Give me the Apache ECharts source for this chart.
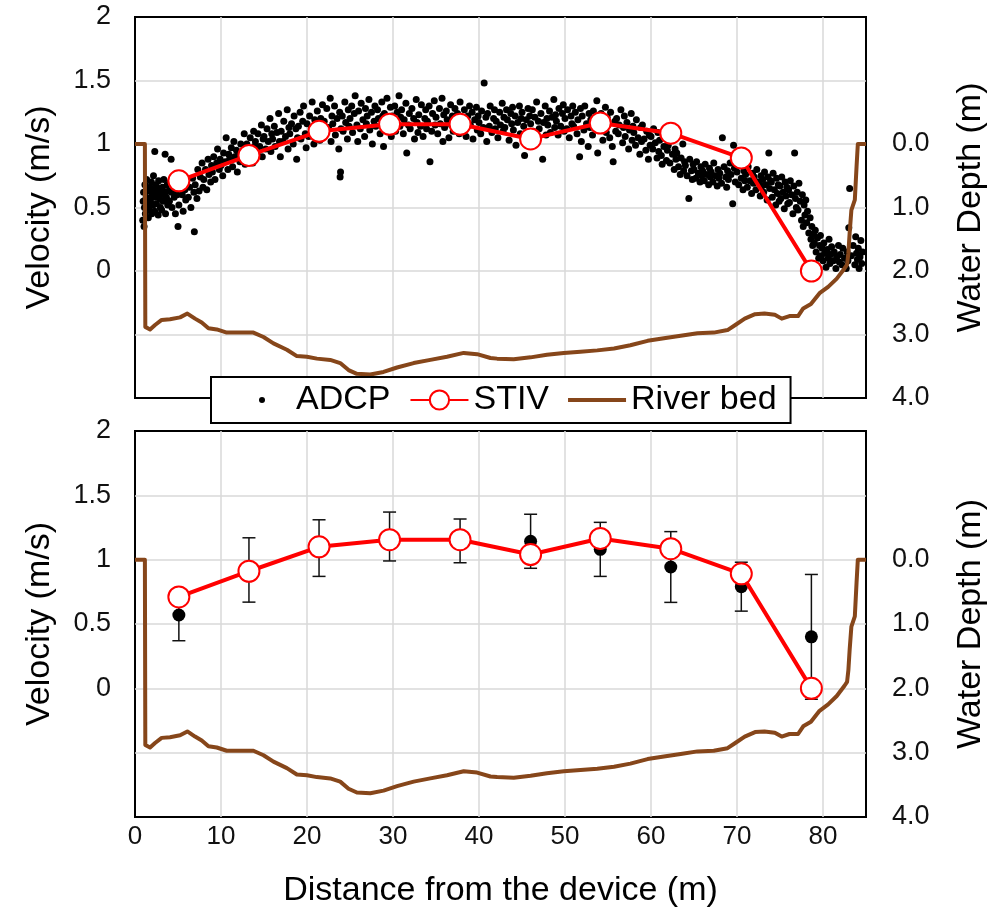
<!DOCTYPE html>
<html>
<head>
<meta charset="utf-8">
<script src="https://cdn.jsdelivr.net/npm/echarts@6/dist/echarts.min.js"></script>
<style>
html,body{margin:0;padding:0;background:#fff;}
#chart{width:1004px;height:914px;}
</style>
</head>
<body>
<div id="chart"></div>
<script>
// ---------- DATA ----------
const xTicks = [0, 10, 20, 30, 40, 50, 60, 70, 80];
const velTicks = [0, 0.5, 1, 1.5, 2];
const depthTicks = [0, 1, 2, 3, 4];

// STIV measurement positions (m) and surface velocity (m/s)
const stivDist = [5.1, 13.25, 21.4, 29.6, 37.8, 46.0, 54.1, 62.3, 70.5, 78.65];
const stivVel  = [0.71, 0.91, 1.10, 1.155, 1.155, 1.04, 1.165, 1.085, 0.89, 0.0];

// ADCP mean velocity and error (std) at the STIV positions (bottom panel)
const adcpMeanVel = [0.57, 0.92, 1.09, 1.18, 1.146, 1.143, 1.08, 0.943, 0.79, 0.40];
const adcpErr     = [0.20, 0.25, 0.22, 0.19, 0.17, 0.21, 0.21, 0.275, 0.19, 0.485];

// River bed profile [distance (m), depth (m)]
const riverBed = [
[0,0],[1.15,0],[1.2,2.88],[1.75,2.92],[2.33,2.85],[3.1,2.77],[4.07,2.76],[5.24,2.73],[6.09,2.67],[6.98,2.75],
[7.76,2.81],[8.54,2.90],[9.51,2.92],[10.67,2.97],[12.22,2.97],[13.77,2.97],[14.94,3.04],[16.1,3.14],[17.66,3.24],
[18.82,3.34],[19.99,3.35],[21.15,3.38],[22.7,3.40],[23.86,3.45],[24.83,3.56],[25.8,3.62],[27.36,3.63],[28.9,3.59],
[30.47,3.52],[32.4,3.45],[34.34,3.40],[36.28,3.35],[38.22,3.29],[39.78,3.31],[41.33,3.37],[42.1,3.38],[44.04,3.39],
[46.0,3.36],[47.9,3.32],[49.86,3.29],[51.8,3.27],[53.75,3.25],[55.7,3.22],[57.6,3.17],[59.6,3.10],[61.5,3.06],
[63.45,3.02],[65.4,2.98],[67.3,2.97],[68.9,2.93],[69.8,2.85],[70.9,2.75],[72.1,2.68],[73.2,2.67],[74.4,2.69],
[75.2,2.75],[76.1,2.71],[77.1,2.71],[77.7,2.59],[78.6,2.52],[79.6,2.35],[80.6,2.25],[81.6,2.12],[82.5,1.96],
[82.8,1.90],[82.95,1.72],[83.1,1.40],[83.3,1.04],[83.7,0.88],[83.9,0.36],[84.05,0],[85,0]
];

// ADCP individual measurements [distance (m), velocity (m/s)] (top panel)
const adcpPoints = [
[0.9,0.40],[0.95,0.55],[1.0,0.62],[1.05,0.35],[1.1,0.50],[1.15,0.68],[1.2,0.45],[1.3,0.58],[1.35,0.72],[1.4,0.52],[1.5,0.63],[1.55,0.42],[1.6,0.57],[1.7,0.48],[1.75,0.66],[1.8,0.55],[1.9,0.70],[1.95,0.45],
[2.0,0.60],[2.1,0.52],[2.15,0.75],[2.2,0.64],[2.3,0.94],[2.3,0.47],[2.35,0.58],[2.45,0.68],[2.5,0.53],[2.6,0.62],[2.7,0.44],[2.75,0.71],[2.85,0.57],[2.9,0.65],[2.95,0.50],
[3.0,0.60],[3.1,0.48],[3.2,0.66],[3.25,0.55],[3.35,0.72],[3.4,0.62],[3.5,0.92],[3.55,0.45],[3.65,0.58],[3.75,0.68],[3.8,0.52],[3.9,0.63],
[4.0,0.55],[4.1,0.70],[4.2,0.88],[4.25,0.62],[4.3,0.50],[4.45,0.66],[4.55,0.58],[4.7,0.45],[4.8,0.64],[4.9,0.60],
[5.0,0.35],[5.1,0.52],[5.3,0.68],[5.5,0.60],[5.6,0.47],[5.8,0.64],[5.9,0.56],
[6.0,0.70],[6.2,0.58],[6.35,0.66],[6.5,0.50],[6.7,0.73],[6.85,0.62],[6.9,0.31],
[7.0,0.68],[7.2,0.57],[7.3,0.80],[7.45,0.63],[7.6,0.74],[7.8,0.85],[7.9,0.66],
[8.0,0.72],[8.2,0.80],[8.35,0.64],[8.5,0.88],[8.6,0.76],[8.8,0.70],[8.9,0.83],
[9.0,0.78],[9.15,0.90],[9.3,0.72],[9.5,0.85],[9.6,0.96],[9.8,0.80],[9.9,0.88],
[10.0,0.83],[10.2,0.75],[10.3,0.93],[10.5,0.86],[10.6,1.05],[10.8,0.80],[10.9,0.92],
[11.0,0.88],[11.2,0.97],[11.35,0.82],[11.5,1.02],[11.6,0.90],[11.8,0.95],[11.9,0.78],
[12.0,0.93],[12.2,0.86],[12.3,1.00],[12.5,0.92],[12.7,1.08],[12.8,0.84],[12.9,0.97],
[13.0,1.00],[13.2,0.90],[13.4,1.05],[13.5,0.95],[13.7,0.85],[13.8,1.10],[13.9,0.98],
[14.0,1.02],[14.2,0.93],[14.3,1.08],[14.5,0.98],[14.7,1.15],[14.8,0.90],[14.9,1.04],
[15.0,1.06],[15.2,0.96],[15.35,1.12],[15.5,1.02],[15.7,1.20],[15.8,0.94],[15.9,1.08],
[16.0,1.04],[16.2,1.14],[16.3,0.98],[16.5,1.09],[16.7,1.24],[16.8,1.02],[16.9,0.90],
[17.0,1.10],[17.2,1.02],[17.3,1.18],[17.5,1.06],[17.7,1.27],[17.8,0.96],[17.9,1.13],
[18.0,1.08],[18.2,1.16],[18.4,1.00],[18.5,1.22],[18.7,1.12],[18.8,0.88],[18.9,1.05],
[19.0,1.14],[19.2,1.25],[19.3,1.04],[19.5,1.18],[19.6,1.30],[19.8,1.08],[19.9,0.97],
[20.0,1.16],[20.2,1.06],[20.3,1.22],[20.5,1.12],[20.6,1.33],[20.8,1.00],[20.9,1.19],
[21.0,1.10],[21.2,1.26],[21.3,1.15],[21.5,1.03],[21.6,1.20],[21.8,1.31],[21.9,1.08],
[22.0,1.18],[22.2,1.08],[22.3,1.28],[22.5,1.13],[22.7,1.36],[22.8,1.02],[22.9,1.22],
[23.0,1.16],[23.2,1.30],[23.3,1.07],[23.5,1.20],[23.7,0.96],[23.8,1.25],[23.85,0.74],[23.9,0.78],[23.95,1.12],
[24.1,1.22],[24.2,1.10],[24.4,1.33],[24.5,1.17],[24.7,1.04],[24.8,1.27],[24.9,1.14],
[25.0,1.20],[25.2,1.30],[25.3,1.09],[25.5,1.24],[25.6,1.38],[25.8,1.15],[25.9,1.02],
[26.0,1.26],[26.2,1.12],[26.3,1.32],[26.5,1.19],[26.7,1.06],[26.8,1.28],[26.9,1.16],
[27.0,1.22],[27.2,1.35],[27.3,1.11],[27.5,1.25],[27.6,1.00],[27.8,1.18],[27.9,1.30],
[28.0,1.14],[28.2,1.27],[28.3,1.20],[28.5,1.08],[28.7,1.33],[28.8,1.22],[28.9,0.98],
[29.0,1.24],[29.2,1.12],[29.3,1.36],[29.5,1.19],[29.7,1.29],[29.8,1.06],[29.9,1.22],
[30.0,1.17],[30.2,1.30],[30.3,1.10],[30.5,1.25],[30.7,1.38],[30.8,1.14],[30.9,1.21],
[31.0,1.27],[31.2,1.08],[31.3,1.19],[31.5,1.32],[31.6,0.93],[31.8,1.15],[31.9,1.24],
[32.0,1.12],[32.2,1.28],[32.4,1.20],[32.5,1.04],[32.7,1.35],[32.8,1.17],[32.9,1.09],
[33.0,1.23],[33.2,1.14],[33.3,1.31],[33.5,1.06],[33.7,1.20],[33.8,1.27],[33.9,1.12],
[34.0,1.18],[34.2,1.30],[34.3,0.86],[34.5,1.10],[34.6,1.24],[34.8,1.34],[34.9,1.15],
[35.0,1.21],[35.2,1.08],[35.4,1.28],[35.5,1.16],[35.7,1.36],[35.8,1.02],[35.9,1.23],
[36.0,1.13],[36.2,1.26],[36.3,1.19],[36.5,1.05],[36.7,1.31],[36.8,1.15],[36.9,1.22],
[37.0,1.10],[37.2,1.28],[37.3,1.17],[37.5,1.24],[37.7,1.08],[37.8,1.33],[37.9,1.14],
[38.0,1.20],[38.2,1.12],[38.3,1.27],[38.5,1.06],[38.7,1.22],[38.8,1.16],[38.9,1.30],
[39.0,1.15],[39.2,1.25],[39.3,1.04],[39.5,1.19],[39.7,1.29],[39.8,1.11],[39.9,1.22],
[40.0,1.17],[40.2,1.08],[40.3,1.26],[40.5,1.13],[40.6,1.48],[40.8,1.21],[40.9,1.02],
[41.0,1.24],[41.2,1.14],[41.3,1.30],[41.5,1.09],[41.7,1.20],[41.8,1.27],[41.9,1.12],
[42.0,1.18],[42.2,1.05],[42.4,1.25],[42.5,1.15],[42.7,1.32],[42.8,1.10],[42.9,1.21],
[43.0,1.13],[43.2,1.27],[43.3,1.19],[43.5,1.03],[43.7,1.24],[43.8,1.16],[43.9,1.29],
[44.0,1.11],[44.2,1.22],[44.3,0.99],[44.5,1.17],[44.7,1.30],[44.8,1.08],[44.9,1.20],
[45.0,1.25],[45.2,1.14],[45.3,0.91],[45.5,1.19],[45.7,1.28],[45.8,1.06],[45.9,1.22],
[46.0,1.16],[46.2,1.27],[46.3,1.10],[46.5,1.21],[46.7,1.33],[46.8,1.02],[46.9,1.18],
[47.0,1.12],[47.2,1.24],[47.4,0.88],[47.5,1.17],[47.7,1.30],[47.8,1.07],[47.9,1.20],
[48.0,1.15],[48.2,1.26],[48.3,1.09],[48.5,1.21],[48.7,1.35],[48.8,1.13],[48.9,1.23],
[49.0,1.18],[49.2,1.07],[49.3,1.28],[49.5,1.14],[49.7,1.24],[49.8,1.31],[49.9,1.10],
[50.0,1.20],[50.2,1.12],[50.3,1.27],[50.5,1.05],[50.7,1.22],[50.8,1.16],[50.9,1.30],
[51.0,1.14],[51.2,1.25],[51.4,1.08],[51.5,1.19],[51.7,0.90],[51.8,1.28],[51.9,1.02],
[52.0,1.22],[52.2,1.11],[52.3,1.30],[52.5,1.16],[52.7,0.98],[52.8,1.24],[52.9,1.13],
[53.0,1.19],[53.2,1.07],[53.3,1.26],[53.5,1.14],[53.7,1.34],[53.8,0.93],[53.9,1.20],
[54.0,1.12],[54.2,1.24],[54.4,1.03],[54.5,1.17],[54.7,1.29],[54.8,1.09],[54.9,1.21],
[55.0,1.15],[55.2,1.05],[55.3,1.25],[55.5,0.98],[55.6,0.86],[55.8,1.18],[55.9,1.10],
[56.0,1.20],[56.2,1.08],[56.3,1.15],[56.5,1.27],[56.7,1.01],[56.8,1.13],[56.9,1.22],
[57.0,1.06],[57.2,1.17],[57.4,0.96],[57.5,1.11],[57.7,1.24],[57.8,1.03],[57.9,1.14],
[58.0,1.09],[58.2,0.99],[58.3,1.19],[58.5,1.05],[58.7,0.92],[58.8,1.13],[58.9,1.02],
[59.0,1.15],[59.2,1.04],[59.4,0.95],[59.5,1.10],[59.7,0.88],[59.8,1.07],[59.9,0.99],
[60.0,1.06],[60.2,0.96],[60.3,1.12],[60.5,1.01],[60.7,0.89],[60.8,1.09],[60.9,0.94],
[61.0,1.03],[61.2,0.91],[61.3,0.84],[61.5,0.98],[61.7,1.08],[61.8,0.87],[61.9,0.95],
[62.0,0.99],[62.2,0.85],[62.4,1.05],[62.5,0.92],[62.7,0.80],[62.8,0.96],[62.9,0.88],
[63.0,0.93],[63.2,0.82],[63.4,0.76],[63.5,0.89],[63.7,1.00],[63.8,0.79],[63.9,0.86],
[64.0,0.83],[64.2,0.75],[64.4,0.57],[64.5,0.88],[64.7,0.79],[64.8,0.72],[64.9,0.84],
[65.0,0.80],[65.2,0.73],[65.3,0.86],[65.5,0.77],[65.7,0.70],[65.8,0.82],[65.9,0.75],
[66.0,0.79],[66.2,0.71],[66.3,0.84],[66.5,0.76],[66.7,0.68],[66.8,0.81],[66.9,0.74],
[67.0,0.78],[67.2,0.70],[67.3,0.85],[67.5,0.75],[67.7,0.67],[67.8,0.80],[67.9,0.73],
[68.0,0.77],[68.2,0.69],[68.3,1.05],[68.5,0.82],[68.7,0.74],[68.8,0.66],[68.9,0.79],
[69.0,0.72],[69.2,0.85],[69.3,0.76],[69.5,0.53],[69.6,0.99],[69.7,0.81],[69.8,0.70],
[70.0,0.78],[70.2,0.68],[70.3,0.84],[70.5,0.73],[70.7,0.64],[70.8,0.79],[70.9,0.71],
[71.0,0.76],[71.2,0.66],[71.3,0.82],[71.5,0.71],[71.7,0.61],[71.8,0.77],[71.9,0.69],
[72.0,0.74],[72.2,0.64],[72.3,0.80],[72.5,0.70],[72.7,0.59],[72.8,0.75],[72.9,0.67],
[73.0,0.72],[73.1,0.62],[73.2,0.78],[73.35,0.68],[73.5,0.56],[73.6,0.74],[73.7,0.93],[73.8,0.65],[73.9,0.71],
[74.0,0.70],[74.1,0.58],[74.2,0.77],[74.35,0.64],[74.5,0.52],[74.6,0.73],[74.7,0.61],[74.8,0.68],[74.9,0.55],
[75.0,0.67],[75.1,0.57],[75.2,0.74],[75.35,0.62],[75.5,0.49],[75.6,0.70],[75.7,0.59],[75.8,0.66],[75.9,0.53],
[76.0,0.64],[76.1,0.54],[76.2,0.71],[76.35,0.60],[76.5,0.45],[76.6,0.67],[76.7,0.93],[76.8,0.57],[76.9,0.50],
[77.0,0.62],[77.1,0.48],[77.2,0.69],[77.35,0.55],[77.5,0.40],[77.6,0.60],[77.7,0.35],[77.8,0.52],[77.9,0.44],
[78.0,0.56],[78.1,0.38],[78.2,0.47],[78.35,0.30],[78.5,0.42],[78.6,0.25],[78.7,0.35],[78.8,0.20],[78.9,0.29],
[79.0,0.22],[79.1,0.32],[79.2,0.15],[79.35,0.26],[79.5,0.10],[79.6,0.20],[79.7,0.28],[79.8,0.12],[79.9,0.18],
[80.0,0.08],[80.1,0.22],[80.2,0.14],[80.35,0.03],[80.5,0.17],[80.6,0.10],[80.7,0.25],[80.8,0.06],[80.9,0.13],
[81.0,0.19],[81.2,0.08],[81.3,0.15],[81.5,0.02],[81.6,0.11],[81.8,0.20],[81.9,0.07],
[82.0,0.13],[82.2,0.05],[82.3,0.18],[82.5,0.10],[82.7,0.02],[82.8,0.15],[82.9,0.08],
[83.0,0.34],[83.1,0.65],[83.3,0.12],[83.5,0.20],[83.7,0.05],[83.8,0.27],[83.9,0.14],
[84.0,0.09],[84.1,0.18],[84.2,0.02],[84.3,0.11],[84.4,0.24],[84.5,0.06],[84.6,0.15]
];

// ---------- STYLE ----------
const FONT = 'Liberation Sans, Arial, sans-serif';
const RED = '#FF0000';
const BROWN = '#86461A';
const GRIDC = '#D9D9D9';

const chart = echarts.init(document.getElementById('chart'), null, {renderer: 'canvas'});

function xAxis(gridIndex, showLabels) {
  return {
    type: 'value', gridIndex: gridIndex, min: 0, max: 85, interval: 10,
    axisLine: {show: false}, axisTick: {show: false},
    axisLabel: {show: showLabels, fontFamily: FONT, fontSize: 26, color: '#111', margin: 7,
      formatter: v => xTicks.indexOf(v) >= 0 ? String(v) : ''},
    splitLine: {show: true, showMinLine: false, showMaxLine: false, lineStyle: {color: GRIDC, width: 1.5}},
    name: showLabels ? 'Distance from the device (m)' : '',
    nameLocation: 'middle', nameGap: 57,
    nameTextStyle: {fontFamily: FONT, fontSize: 34, color: '#000'}
  };
}
function velAxis(gridIndex) {
  return {
    type: 'value', gridIndex: gridIndex, position: 'left', min: -1, max: 2, interval: 0.5,
    axisLine: {show: false}, axisTick: {show: false},
    axisLabel: {fontFamily: FONT, fontSize: 27, color: '#111', margin: 24,
      formatter: v => velTicks.indexOf(v) >= 0 ? String(v) : ''},
    splitLine: {show: true, showMinLine: false, showMaxLine: false, lineStyle: {color: GRIDC, width: 1.5}},
    name: 'Velocity (m/s)', nameLocation: 'middle', nameGap: 78, nameRotate: 90,
    nameTextStyle: {fontFamily: FONT, fontSize: 34, color: '#000'}
  };
}
function depthAxis(gridIndex) {
  return {
    type: 'value', gridIndex: gridIndex, position: 'right', min: -2, max: 4, interval: 1, inverse: true,
    axisLine: {show: false}, axisTick: {show: false},
    axisLabel: {fontFamily: FONT, fontSize: 27, color: '#111', margin: 26,
      formatter: v => depthTicks.indexOf(v) >= 0 ? v.toFixed(1) : ''},
    splitLine: {show: false},
    name: 'Water Depth (m)', nameLocation: 'middle', nameGap: 88, nameRotate: 90,
    nameTextStyle: {fontFamily: FONT, fontSize: 34, color: '#000'}
  };
}

function errorBarItem(params, api) {
  const x = api.value(0);
  const lo = api.coord([x, api.value(1)]);
  const hi = api.coord([x, api.value(2)]);
  const hw = 6.5;
  const st = {stroke: '#111', lineWidth: 1.5, fill: null};
  return {
    type: 'group',
    children: [
      {type: 'line', shape: {x1: lo[0], y1: lo[1], x2: hi[0], y2: hi[1]}, style: st},
      {type: 'line', shape: {x1: lo[0] - hw, y1: lo[1], x2: lo[0] + hw, y2: lo[1]}, style: st},
      {type: 'line', shape: {x1: hi[0] - hw, y1: hi[1], x2: hi[0] + hw, y2: hi[1]}, style: st}
    ]
  };
}

const stivData = stivDist.map((d, i) => [d, stivVel[i]]);
const meanData = stivDist.map((d, i) => [d, adcpMeanVel[i]]);
const errData = stivDist.map((d, i) => [d, adcpMeanVel[i] - adcpErr[i], adcpMeanVel[i] + adcpErr[i]]);

function stivSeries(xi, yi) {
  return {
    name: 'STIV', type: 'line', xAxisIndex: xi, yAxisIndex: yi, data: stivData,
    symbol: 'circle', symbolSize: 21, z: 5,
    lineStyle: {color: RED, width: 4},
    itemStyle: {color: '#fff', borderColor: RED, borderWidth: 2},
    emphasis: {disabled: true}
  };
}
function bedSeries(xi, yi) {
  return {
    name: 'River bed', type: 'line', xAxisIndex: xi, yAxisIndex: yi, data: riverBed,
    symbol: 'none', color: BROWN, z: 4,
    lineStyle: {color: BROWN, width: 4, join: 'round'},
    emphasis: {disabled: true}
  };
}

const option = {
  animation: false,
  backgroundColor: '#fff',
  grid: [
    {left: 135, right: 138, top: 17, height: 381, show: true, borderColor: '#000', borderWidth: 2, backgroundColor: 'transparent'},
    {left: 135, right: 138, top: 431, height: 386, show: true, borderColor: '#000', borderWidth: 2, backgroundColor: 'transparent'}
  ],
  xAxis: [xAxis(0, false), xAxis(1, true)],
  yAxis: [velAxis(0), depthAxis(0), velAxis(1), depthAxis(1)],
  legend: {
    left: 211, top: 377,
    padding: [6, 14, 6, 39],
    itemGap: 19, itemWidth: 58, itemHeight: 24,
    backgroundColor: '#fff', borderColor: '#000', borderWidth: 2, borderRadius: 0,
    textStyle: {fontFamily: FONT, fontSize: 34, color: '#000'},
    selectedMode: false, z: 10,
    data: [
      {name: 'ADCP', icon: 'path://M0,0M24,24M9,12a3,3 0 1,0 6,0a3,3 0 1,0 -6,0Z'},
      {name: 'STIV'},
      {name: 'River bed', icon: 'path://M0,0M58,24M0,10L58,10L58,14L0,14Z'}
    ]
  },
  series: [
    {
      name: 'ADCP', type: 'scatter', xAxisIndex: 0, yAxisIndex: 0, data: adcpPoints,
      symbol: 'circle', symbolSize: 7, itemStyle: {color: '#000', opacity: 1}, z: 2,
      large: false, progressive: 0,
      emphasis: {disabled: true}
    },
    bedSeries(0, 1),
    stivSeries(0, 0),
    {
      name: 'ADCP err', type: 'custom', xAxisIndex: 1, yAxisIndex: 2, data: errData,
      renderItem: errorBarItem, encode: {x: 0, y: [1, 2]}, z: 2
    },
    {
      name: 'ADCP', type: 'scatter', xAxisIndex: 1, yAxisIndex: 2, data: meanData,
      symbol: 'circle', symbolSize: 13, itemStyle: {color: '#000', opacity: 1}, z: 3,
      emphasis: {disabled: true}
    },
    bedSeries(1, 3),
    stivSeries(1, 2)
  ]
};
chart.setOption(option);
</script>
</body>
</html>
